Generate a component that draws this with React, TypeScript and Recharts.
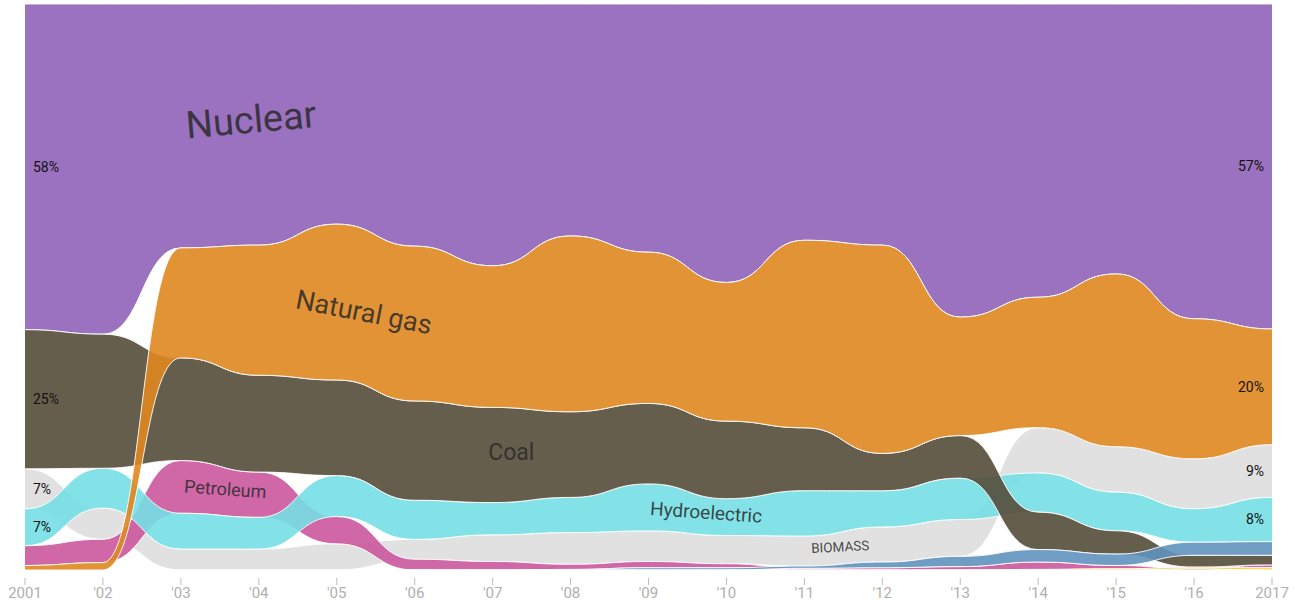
import React from "react";
import { AreaChart, Area, XAxis, YAxis, ReferenceDot } from "recharts";

const YEARS = [
  2001, 2002, 2003, 2004, 2005, 2006, 2007, 2008, 2009, 2010, 2011, 2012, 2013,
  2014, 2015, 2016, 2017,
];

// share of generation, percent
const NUCLEAR = [57.6, 58.1, 43.0, 42.6, 38.7, 42.7, 46.2, 40.9, 43.8, 49.2, 41.7, 42.6, 55.2, 51.7, 47.5, 55.5, 57.3];
const NATURAL_GAS = [0.8, 1.3, 19.4, 23.0, 27.4, 27.3, 25.0, 31.0, 26.7, 24.5, 33.1, 36.8, 20.9, 23.0, 30.4, 24.7, 20.4];
const COAL = [24.6, 23.6, 18.1, 17.1, 16.8, 17.5, 16.8, 15.1, 14.2, 13.7, 11.1, 6.6, 7.5, 6.6, 4.1, 2.1, 1.7];
const HYDRO = [6.5, 7.0, 6.3, 5.6, 7.2, 6.9, 5.7, 6.2, 8.3, 6.5, 8.0, 6.4, 7.3, 6.9, 6.8, 5.9, 7.8];
const BIOMASS = [7.1, 5.5, 3.7, 3.7, 4.6, 3.5, 4.7, 5.6, 5.4, 5.0, 5.3, 6.2, 6.5, 8.0, 8.0, 8.8, 9.3];
const PETROLEUM = [3.5, 4.1, 9.3, 8.0, 4.8, 1.9, 1.5, 0.9, 1.1, 0.7, 0.3, 0.4, 0.6, 1.3, 0.6, 0.2, 0.5];
const OTHER = [0, 0, 0, 0, 0, 0, 0, 0.1, 0.4, 0.4, 0.4, 1.0, 1.8, 2.2, 2.0, 2.3, 2.4];
const SOLAR = [0, 0, 0, 0, 0, 0, 0, 0, 0, 0, 0, 0, 0, 0.1, 0.2, 0.3, 0.4];

// draw order: later series paint over earlier ones where bands cross
const SERIES = [
  { key: "nuclear", values: NUCLEAR, fill: "#9b72c0", opacity: 1 },
  { key: "biomass", values: BIOMASS, fill: "#dedede", opacity: 0.9 },
  { key: "petroleum", values: PETROLEUM, fill: "#cb579c", opacity: 0.9 },
  { key: "hydro", values: HYDRO, fill: "#74dfe4", opacity: 0.9 },
  { key: "coal", values: COAL, fill: "#554d3a", opacity: 0.9 },
  { key: "other", values: OTHER, fill: "#6192bc", opacity: 0.9 },
  { key: "solar", values: SOLAR, fill: "#f5cf2e", opacity: 0.9 },
  { key: "gas", values: NATURAL_GAS, fill: "#df8720", opacity: 0.9 },
];

const START_LABELS = ["nuclear", "coal", "biomass", "hydro"];
const END_LABELS = ["nuclear", "gas", "biomass", "hydro"];

const NAME_LABELS = [
  { text: "Nuclear", year: 2003.9, value: 79.6, size: 38, angle: -5 },
  { text: "Natural gas", year: 2005.35, value: 45.6, size: 27, angle: 11 },
  { text: "Coal", year: 2007.24, value: 20.8, size: 23, angle: 0 },
  { text: "Petroleum", year: 2003.57, value: 14.3, size: 18, angle: 4 },
  { text: "Hydroelectric", year: 2009.74, value: 10.2, size: 19, angle: 4 },
  { text: "BIOMASS", year: 2011.46, value: 4.1, size: 13.5, angle: -3 },
];

// rank the sources each year, smallest at the bottom
const rows = YEARS.map((year, i) => {
  const total = SERIES.reduce((sum, s) => sum + s.values[i], 0);
  const ranked = [...SERIES].sort((a, b) => a.values[i] - b.values[i]);
  const row: any = { year };
  let acc = 0;
  ranked.forEach((s) => {
    const v = (s.values[i] / total) * 100;
    row[s.key] = [acc, acc + v];
    acc += v;
  });
  return row;
});

const byKey = (key: string) => SERIES.find((s) => s.key === key)!;

const mid = (i: number, key: string) => (rows[i][key][0] + rows[i][key][1]) / 2;

const renderTick = (props: any) => {
  const { x, y, payload } = props;
  const yr = payload.value;
  const text = yr === 2001 || yr === 2017 ? String(yr) : "'" + String(yr).slice(2);
  return (
    <g>
      <line x1={x} x2={x} y1={y + 8} y2={y + 15} stroke="#bdbdbd" strokeWidth={1} />
      <text x={x} y={y + 28} textAnchor="middle" fill="#b0b0b0" fontSize={15}>
        {text}
      </text>
    </g>
  );
};

const edgeLabel = (text: string, side: "start" | "end") => (props: any) => {
  const { x, y, width, height } = props.viewBox;
  const cx = x + width / 2;
  const cy = y + height / 2;
  return (
    <text
      x={side === "start" ? cx + 8 : cx - 8}
      y={cy}
      dy="0.35em"
      textAnchor={side}
      fill="#111"
      fontSize={14}
    >
      {text}
    </text>
  );
};

const nameLabel = (text: string, size: number, angle: number) => (props: any) => {
  const { x, y, width, height } = props.viewBox;
  const cx = x + width / 2;
  const cy = y + height / 2;
  return (
    <text
      x={cx}
      y={cy}
      dy="0.35em"
      textAnchor="middle"
      fill="#2a2a2a"
      fillOpacity={0.85}
      fontSize={size}
      transform={`rotate(${angle} ${cx} ${cy})`}
    >
      {text}
    </text>
  );
};

export default function App() {
  const last = YEARS.length - 1;
  return (
    <div
      style={{
        position: "absolute",
        left: 0,
        top: 0,
        width: 1295,
        height: 601,
        background: "#fff",
        fontFamily: "Roboto, sans-serif",
      }}
    >
      <AreaChart
        width={1295}
        height={601}
        data={rows}
        margin={{ top: 4, right: 23, bottom: 0, left: 25 }}
      >
        <XAxis
          dataKey="year"
          type="number"
          domain={[2001, 2017]}
          ticks={YEARS}
          interval={0}
          axisLine={false}
          tickLine={false}
          tickSize={0}
          tickMargin={0}
          height={31}
          tick={renderTick}
        />
        <YAxis type="number" domain={[0, 100]} hide />

        {SERIES.map((s) => (
          <Area
            key={s.key}
            type="bumpX"
            dataKey={s.key}
            fill={s.fill}
            fillOpacity={s.opacity}
            stroke="#ffffff"
            strokeWidth={1}
            strokeOpacity={0.9}
            dot={false}
            activeDot={false}
            isAnimationActive={false}
          />
        ))}

        {START_LABELS.map((key) => (
          <ReferenceDot
            key={"s-" + key}
            x={YEARS[0]}
            y={mid(0, key)}
            r={1}
            fill="none"
            stroke="none"
            label={edgeLabel(Math.round(byKey(key).values[0]) + "%", "start")}
          />
        ))}
        {END_LABELS.map((key) => (
          <ReferenceDot
            key={"e-" + key}
            x={YEARS[last]}
            y={mid(last, key)}
            r={1}
            fill="none"
            stroke="none"
            label={edgeLabel(Math.round(byKey(key).values[last]) + "%", "end")}
          />
        ))}
        {NAME_LABELS.map((l) => (
          <ReferenceDot
            key={l.text}
            x={l.year}
            y={l.value}
            r={1}
            fill="none"
            stroke="none"
            label={nameLabel(l.text, l.size, l.angle)}
          />
        ))}
      </AreaChart>
    </div>
  );
}
